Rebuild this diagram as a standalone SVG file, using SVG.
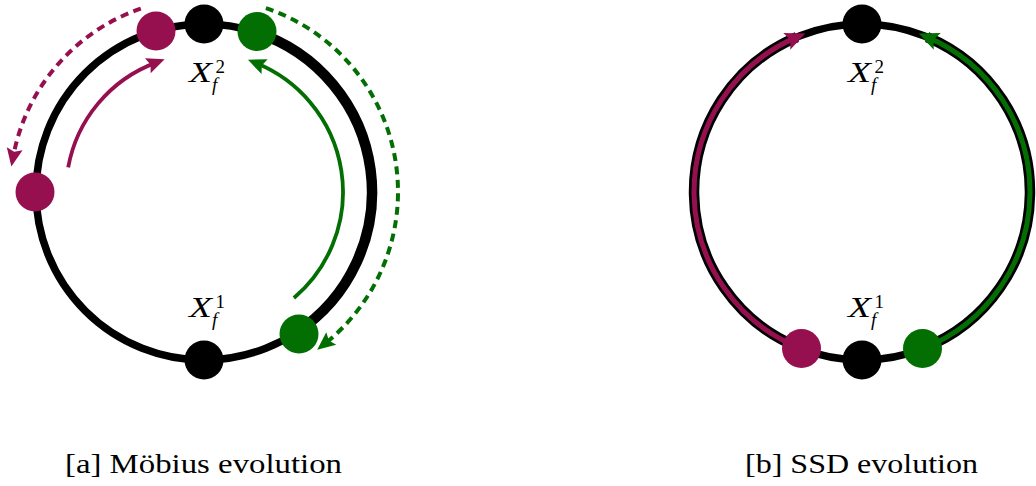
<svg xmlns="http://www.w3.org/2000/svg" width="1036" height="486" viewBox="0 0 1036 486">
<style>
.base{fill:none;stroke:#000;stroke-width:7.5}
.thick{fill:none;stroke:#000;stroke-width:10.5}
.mg{fill:none;stroke:#961050;stroke-width:3.8}
.gr{fill:none;stroke:#036f03;stroke-width:3.8}
.dash{stroke-dasharray:8 5.5;stroke-width:4}
.dm{fill:#961050}.dg{fill:#036f03}.dk{fill:#000}
.X{font-style:italic;font-size:30px;fill:#000}
.sup{font-size:19px;fill:#000}
.sub{font-style:italic;font-size:19px;fill:#000}
.cap{font-size:28px;fill:#000}
.ol{fill:none;stroke:#000;stroke-width:10.5}
.mr{fill:none;stroke:#961050;stroke-width:5}
.gr2{fill:none;stroke:#036f03;stroke-width:5}
</style>
<defs>
<marker id="hm" markerUnits="userSpaceOnUse" orient="auto" refX="-10" refY="0" markerWidth="20" markerHeight="20" overflow="visible"><path d="M-18,-8 L0,0 L-18,8 L-15,0 z" fill="#961050"/></marker>
<marker id="hg" markerUnits="userSpaceOnUse" orient="auto" refX="-10" refY="0" markerWidth="20" markerHeight="20" overflow="visible"><path d="M-18,-8 L0,0 L-18,8 L-15,0 z" fill="#036f03"/></marker>
<marker id="sm" markerUnits="userSpaceOnUse" orient="auto" refX="-9" refY="0" markerWidth="20" markerHeight="20" overflow="visible"><path d="M-20,-9 L0,0 L-20,9 L-16,0 z" fill="#961050"/></marker>
<marker id="sg" markerUnits="userSpaceOnUse" orient="auto" refX="-9" refY="0" markerWidth="20" markerHeight="20" overflow="visible"><path d="M-20,-9 L0,0 L-20,9 L-16,0 z" fill="#036f03"/></marker>
</defs>

<g id="circle-a">
<circle class="base" cx="204" cy="192" r="168"/>
<path class="thick" d="M255.9,32.2 A168,168 0 0 1 295.5,332.9"/>
</g>

<g id="connectors">
<path class="mg dash" d="M140.8,8.6 A194,194 0 0 0 13.2,156.6" marker-end="url(#hm)"/>
<path class="mg" d="M68.2,167.3 A138,138 0 0 1 155.3,62.9" marker-end="url(#hm)"/>
<path class="gr" d="M293.9,298 A139,139 0 0 0 257.2,63.6" marker-end="url(#hg)"/>
<path class="gr dash" d="M265.9,8.1 A194,194 0 0 1 325,343.6" marker-end="url(#hg)"/>
</g>

<g id="nodes-a">
<circle id="a-x2" class="dk" cx="204" cy="24" r="19.5"/>
<circle id="a-x1" class="dk" cx="204" cy="360" r="19.5"/>
<circle id="a-m-top" class="dm" cx="156" cy="31" r="19.5"/>
<circle id="a-m-left" class="dm" cx="35" cy="192" r="19.5"/>
<circle id="a-g-top" class="dg" cx="257" cy="31.5" r="19.5"/>
<circle id="a-g-bot" class="dg" cx="299" cy="334" r="19.5"/>
</g>

<g id="labels-a" font-family="'Liberation Serif', 'Times New Roman', serif">
<text class="X" x="189" y="82" textLength="23" lengthAdjust="spacingAndGlyphs">X</text>
<text class="sup" x="215.5" y="73">2</text>
<text class="sub" x="212" y="91">f</text>
<text class="X" x="189" y="317" textLength="23" lengthAdjust="spacingAndGlyphs">X</text>
<text class="sup" x="215.5" y="308">1</text>
<text class="sub" x="212" y="326">f</text>
</g>

<g id="circle-b">
<circle class="base" cx="862" cy="192" r="168"/>
<path class="ol" d="M801.3,348.6 A168,168 0 0 1 796.9,37.1"/>
<path class="ol" d="M922.7,348.6 A168,168 0 0 0 927.1,37.1"/>
<path class="mr" d="M801.3,348.6 A168,168 0 0 1 796.9,37.1" marker-end="url(#sm)"/>
<path class="gr2" d="M922.7,348.6 A168,168 0 0 0 927.1,37.1" marker-end="url(#sg)"/>
</g>

<g id="nodes-b">
<circle id="b-x2" class="dk" cx="862" cy="24" r="19.5"/>
<circle id="b-x1" class="dk" cx="862" cy="360" r="19.5"/>
<circle id="b-m" class="dm" cx="801.5" cy="348.5" r="19.5"/>
<circle id="b-g" class="dg" cx="922.5" cy="348.5" r="19.5"/>
</g>

<g id="labels-b" font-family="'Liberation Serif', 'Times New Roman', serif">
<text class="X" x="848" y="82" textLength="23" lengthAdjust="spacingAndGlyphs">X</text>
<text class="sup" x="874.5" y="73">2</text>
<text class="sub" x="871" y="91">f</text>
<text class="X" x="848" y="317" textLength="23" lengthAdjust="spacingAndGlyphs">X</text>
<text class="sup" x="874.5" y="308">1</text>
<text class="sub" x="871" y="326">f</text>
</g>

<g id="captions" font-family="'Liberation Serif', 'Times New Roman', serif">
<text class="cap" x="65" y="473" textLength="277" lengthAdjust="spacingAndGlyphs">[a] Möbius evolution</text>
<text class="cap" x="745" y="473" textLength="233" lengthAdjust="spacingAndGlyphs">[b] SSD evolution</text>
</g>
</svg>
